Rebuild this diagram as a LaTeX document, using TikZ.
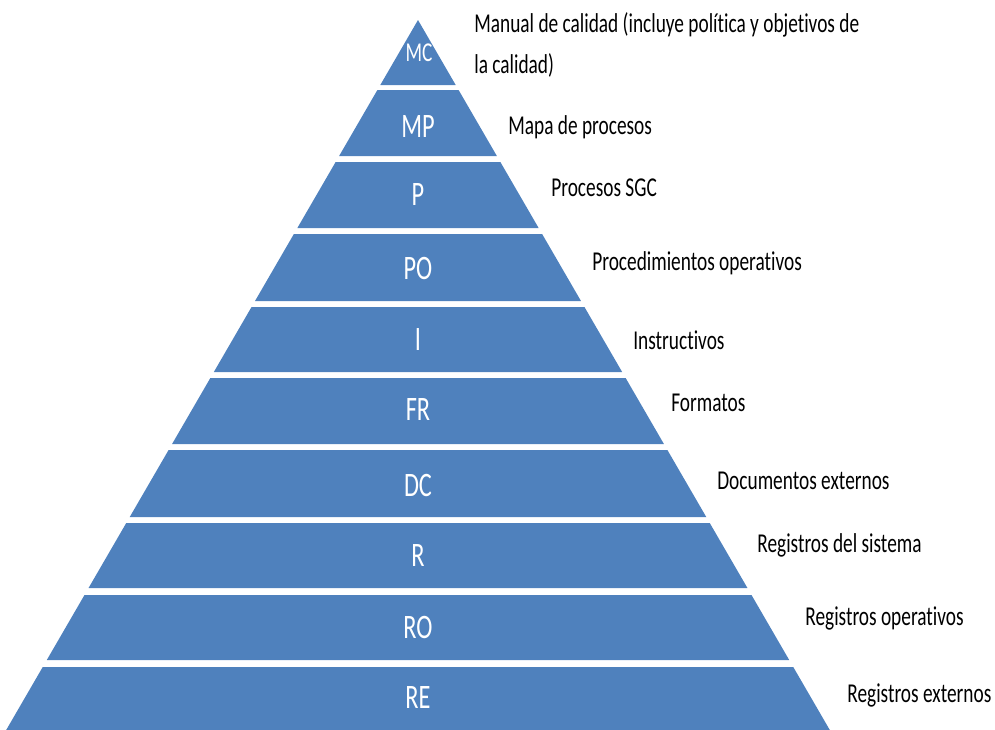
\documentclass[tikz,border=0pt]{standalone}
\usepackage{fontspec}
\setmainfont[FakeStretch=0.71,Ligatures=NoCommon]{Carlito}
\usepackage{tikz}
\definecolor{levelblue}{HTML}{4F81BD}

\begin{document}
\begin{tikzpicture}[x=0.02cm,y=-0.02cm]
    \tikzstyle{level}=[fill=levelblue,draw=none]
    \tikzstyle{code}=[text=white,font=\fontsize{19.5}{22}\selectfont,inner sep=0pt]
    \tikzstyle{desc}=[anchor=west,text=black,font=\fontsize{15.5}{20}\selectfont,inner sep=0pt]
    \useasboundingbox (0,0) rectangle (995,730);

    % Bands of the pyramid: apex at (418,20), half width 0.58 per unit of height
    \foreach \top/\bot in {20/85,90/156,162/228,234/301,307/372,378/444,450/517,523/588,595/660,667/730}
        \fill[level] ({418-0.58*(\top-20)},\top) -- ({418+0.58*(\top-20)},\top)
            -- ({418+0.58*(\bot-20)},\bot) -- ({418-0.58*(\bot-20)},\bot) -- cycle;

    % Codes inside the bands
    \node[code,font=\fontsize{15.5}{18}\selectfont] (MC) at (419,53) {MC};
    \node[code] (MP) at (418,127) {MP};
    \node[code] (P) at (418,195) {P};
    \node[code] (PO) at (418,268) {PO};
    \node[code] (I) at (418,340) {I};
    \node[code] (FR) at (418,410) {FR};
    \node[code] (DC) at (418,485) {DC};
    \node[code] (R) at (418,556) {R};
    \node[code] (RO) at (418,627) {RO};
    \node[code] (RE) at (418,698) {RE};

    % Descriptions on the right
    \node[desc,align=left,font=\fontsize{15.5}{23}\selectfont] (MC-d) at (474,45)
        {Manual de calidad (incluye política y objetivos de\\la calidad)};
    \node[desc] (MP-d) at (508,127) {Mapa de procesos};
    \node[desc] (P-d) at (551,188) {Procesos SGC};
    \node[desc] (PO-d) at (592,263) {Procedimientos operativos};
    \node[desc] (I-d) at (633,340) {Instructivos};
    \node[desc] (FR-d) at (671,403) {Formatos};
    \node[desc] (DC-d) at (717,481) {Documentos externos};
    \node[desc] (R-d) at (757,545) {Registros del sistema};
    \node[desc] (RO-d) at (805,618) {Registros operativos};
    \node[desc] (RE-d) at (847,695) {Registros externos};
\end{tikzpicture}
\end{document}
